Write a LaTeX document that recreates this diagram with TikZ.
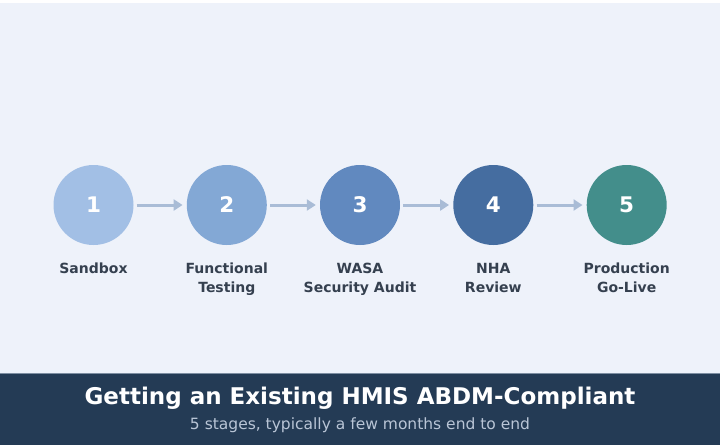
\documentclass[tikz,border=0pt]{standalone}
\usepackage{fontspec}
\setmainfont{DejaVu Sans}
\usetikzlibrary{arrows.meta}
\definecolor{bgc}{HTML}{EEF2FA}
\definecolor{banner}{HTML}{243B55}
\definecolor{cA}{HTML}{A2BFE5}
\definecolor{cB}{HTML}{83A8D5}
\definecolor{cC}{HTML}{6189BF}
\definecolor{cD}{HTML}{456DA0}
\definecolor{cE}{HTML}{438E8B}
\definecolor{arr}{HTML}{A9BCD6}
\definecolor{lbl}{HTML}{35404F}
\definecolor{subc}{HTML}{B9C5D6}
\newcommand{\toprl}{\rule{0pt}{11pt}}
\tikzset{
  stage/.style={circle, minimum size=80pt, inner sep=0pt, text=white, font=\bfseries\fontsize{21.5}{21.5}\selectfont},
  lab/.style={align=center, text=lbl, font=\bfseries\fontsize{14}{19}\selectfont, anchor=north},
  flow/.style={draw=arr, line width=3pt, -{Triangle[length=9pt,width=11pt]}, shorten <=3pt, shorten >=4pt}
}
\begin{document}
\begin{tikzpicture}[x=1pt,y=-1pt]
\useasboundingbox (0,0) rectangle (720,445);
\fill[white] (0,0) rectangle (720,445);
\fill[bgc] (0,3) rectangle (720,373);
\fill[banner] (0,373) rectangle (720,445);
\draw[subc!60!banner, line width=0.8pt] (0,373.4) -- (720,373.4);
\node[stage, fill=cA] (s1) at (93.5,205) {1};
\node[stage, fill=cB] (s2) at (226.8,205) {2};
\node[stage, fill=cC] (s3) at (360,205) {3};
\node[stage, fill=cD] (s4) at (493.3,205) {4};
\node[stage, fill=cE] (s5) at (626.7,205) {5};
\draw[flow] (s1) -- (s2);
\draw[flow] (s2) -- (s3);
\draw[flow] (s3) -- (s4);
\draw[flow] (s4) -- (s5);
\node[lab] (l1) at (93.5,259) {\toprl Sandbox};
\node[lab] (l2) at (226.8,259) {\toprl Functional\\Testing};
\node[lab] (l3) at (360,259) {\toprl WASA\\Security Audit};
\node[lab] (l4) at (493.3,259) {\toprl NHA\\Review};
\node[lab] (l5) at (626.7,259) {\toprl Production\\Go-Live};
\node[text=white, font=\bfseries\fontsize{23}{23}\selectfont] (title) at (360,398) {Getting an Existing HMIS ABDM-Compliant};
\node[text=subc, font=\fontsize{15.5}{15.5}\selectfont] (sub) at (360,425) {5 stages, typically a few months end to end};
\end{tikzpicture}
\end{document}
